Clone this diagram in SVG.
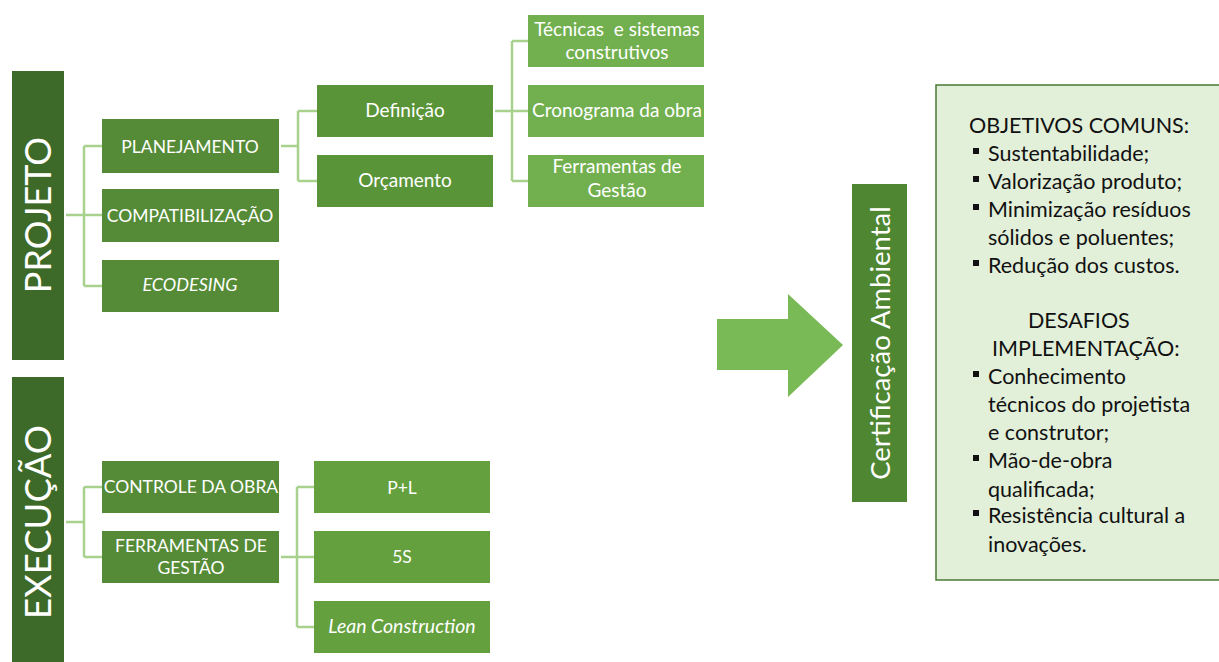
<svg xmlns="http://www.w3.org/2000/svg" width="1219" height="662" viewBox="0 0 1219 662">
<style>
text{font-family:Lato,"Open Sans","Liberation Sans",sans-serif;}
.w{fill:#ffffff;}
.c{text-anchor:middle;}
.bar{fill:#3d6a28;}
.l1{fill:#558b36;}
.l2{fill:#5a9438;}
.l3{fill:#72b04f;}
.l3e{fill:#64a03e;}
.bt{font-size:17.5px;}
.bm{font-size:19px;}
.conn{fill:none;stroke:#a9d18e;stroke-width:2.5;}
.rt{font-size:21.5px;fill:#111111;}
.bul{fill:#111111;}
</style>
<rect width="1219" height="662" fill="#ffffff"/>
<g id="connectors">
<path class="conn" d="M66 215 H84 M84 146 V286 M84 146 H102 M84 215 H102 M84 286 H102"/>
<path class="conn" d="M281 146 H298 M298 111 V181 M298 111 H317 M298 181 H317"/>
<path class="conn" d="M495 111 H512 M512 41 V181 M512 41 H528 M512 111 H528 M512 181 H528"/>
<path class="conn" d="M66 522 H84 M84 487 V557 M84 487 H102 M84 557 H102"/>
<path class="conn" d="M281 557 H297 M297 487 V627 M297 487 H314 M297 557 H314 M297 627 H314"/>
</g>
<g id="projeto">
<rect class="bar" x="12" y="71" width="52" height="289"/>
<text class="w c" transform="translate(51 215) rotate(-90)" font-size="36">PROJETO</text>
</g>
<g id="execucao">
<rect class="bar" x="12" y="377" width="52" height="290"/>
<text class="w c" transform="translate(51 522) rotate(-90)" font-size="36.5">EXECUÇÃO</text>
</g>
<g id="planejamento">
<rect class="l1" x="102" y="119" width="177" height="54"/>
<text class="w c bt" x="190" y="153">PLANEJAMENTO</text>
</g>
<g id="compatibilizacao">
<rect class="l1" x="102" y="189" width="177" height="53"/>
<text class="w c bt" x="190" y="222">COMPATIBILIZAÇÃO</text>
</g>
<g id="ecodesing">
<rect class="l1" x="102" y="260" width="177" height="52"/>
<text class="w c" x="190" y="291" font-size="18" font-style="italic">ECODESING</text>
</g>
<g id="definicao">
<rect class="l2" x="317" y="85" width="176" height="52"/>
<text class="w c bm" x="405" y="117">Definição</text>
</g>
<g id="orcamento">
<rect class="l2" x="317" y="155" width="176" height="52"/>
<text class="w c bm" x="405" y="187">Orçamento</text>
</g>
<g id="tecnicas">
<rect class="l3" x="528" y="15" width="176" height="52"/>
<text class="w c bm" x="617" y="36" xml:space="preserve">Técnicas  e sistemas</text>
<text class="w c bm" x="617" y="59">construtivos</text>
</g>
<g id="cronograma">
<rect class="l3" x="528" y="85" width="176" height="52"/>
<text class="w c bm" x="617" y="117">Cronograma da obra</text>
</g>
<g id="ferramentas-gestao">
<rect class="l3" x="528" y="155" width="176" height="52"/>
<text class="w c bm" x="617" y="173">Ferramentas de</text>
<text class="w c bm" x="617" y="197">Gestão</text>
</g>
<g id="controle">
<rect class="l1" x="102" y="461" width="177" height="52"/>
<text class="w c bt" x="191" y="493">CONTROLE DA OBRA</text>
</g>
<g id="ferramentas-exec">
<rect class="l1" x="102" y="531" width="177" height="52"/>
<text class="w c bt" x="191" y="552">FERRAMENTAS DE</text>
<text class="w c bt" x="191" y="574">GESTÃO</text>
</g>
<g id="pl">
<rect class="l3e" x="314" y="461" width="176" height="52"/>
<text class="w c bt" x="402" y="494">P+L</text>
</g>
<g id="s5">
<rect class="l3e" x="314" y="531" width="176" height="52"/>
<text class="w c bt" x="402" y="563">5S</text>
</g>
<g id="lean">
<rect class="l3e" x="314" y="601" width="176" height="52"/>
<text class="w c" x="402" y="633" font-size="19.5" font-style="italic">Lean Construction</text>
</g>
<g id="arrow">
<polygon points="717,319 788,319 788,294 843,345 788,397 788,370 717,370" fill="#79b956"/>
</g>
<g id="certificacao">
<rect x="852" y="184" width="55" height="318" fill="#4f8632"/>
<text class="w c" transform="translate(890 343) rotate(-90)" font-size="27.5">Certificação Ambiental</text>
</g>
<g id="info">
<rect x="936" y="85" width="290" height="495" fill="#e2efd9" stroke="#4a7a33" stroke-width="1.5"/>
<text class="rt" x="969" y="133">OBJETIVOS COMUNS:</text>
<rect class="bul" x="973" y="148" width="6" height="6"/>
<text class="rt" x="988" y="161">Sustentabilidade;</text>
<rect class="bul" x="973" y="176" width="6" height="6"/>
<text class="rt" x="988" y="189">Valorização produto;</text>
<rect class="bul" x="973" y="204" width="6" height="6"/>
<text class="rt" x="988" y="217">Minimização resíduos</text>
<text class="rt" x="988" y="245">sólidos e poluentes;</text>
<rect class="bul" x="973" y="260" width="6" height="6"/>
<text class="rt" x="988" y="273">Redução dos custos.</text>
<text class="rt" x="1028" y="328">DESAFIOS</text>
<text class="rt" x="992" y="356">IMPLEMENTAÇÃO:</text>
<rect class="bul" x="973" y="371" width="6" height="6"/>
<text class="rt" x="988" y="384">Conhecimento</text>
<text class="rt" x="988" y="412">técnicos do projetista</text>
<text class="rt" x="988" y="440">e construtor;</text>
<rect class="bul" x="973" y="455" width="6" height="6"/>
<text class="rt" x="988" y="468">Mão-de-obra</text>
<text class="rt" x="988" y="497">qualificada;</text>
<rect class="bul" x="973" y="510" width="6" height="6"/>
<text class="rt" x="988" y="523">Resistência cultural a</text>
<text class="rt" x="988" y="552">inovações.</text>
</g>
</svg>
